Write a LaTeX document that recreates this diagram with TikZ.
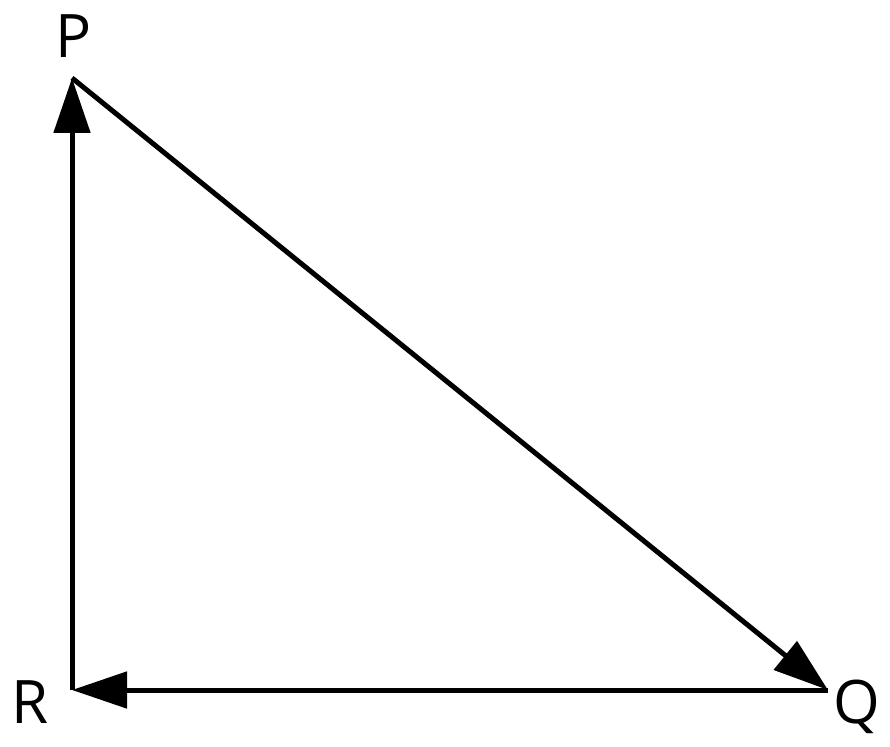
\documentclass[tikz,border=0pt]{standalone}
\usepackage{fontspec}
\setmainfont{Open Sans}
\usetikzlibrary{arrows.meta}
\begin{document}
\begin{tikzpicture}[x=1pt,y=-1pt,
  edge/.style={line width=5pt,-{Triangle[length=55pt,width=36pt]}},
  lbl/.style={font=\fontsize{60}{60}\selectfont,inner sep=0pt,anchor=base}]
\useasboundingbox (0,0) rectangle (890,746);
\coordinate (P) at (72,78);
\coordinate (R) at (72,690);
\coordinate (Q) at (828,690);
\node[lbl] (lP) at (74,58) {P};
\node[lbl] (lR) at (30,723) {R};
\node[lbl] (lQ) at (857,723) {Q};
\draw[edge] (P) -- (Q);
\draw[edge] (Q) -- (R);
\draw[edge] (R) -- (P);
\end{tikzpicture}
\end{document}
